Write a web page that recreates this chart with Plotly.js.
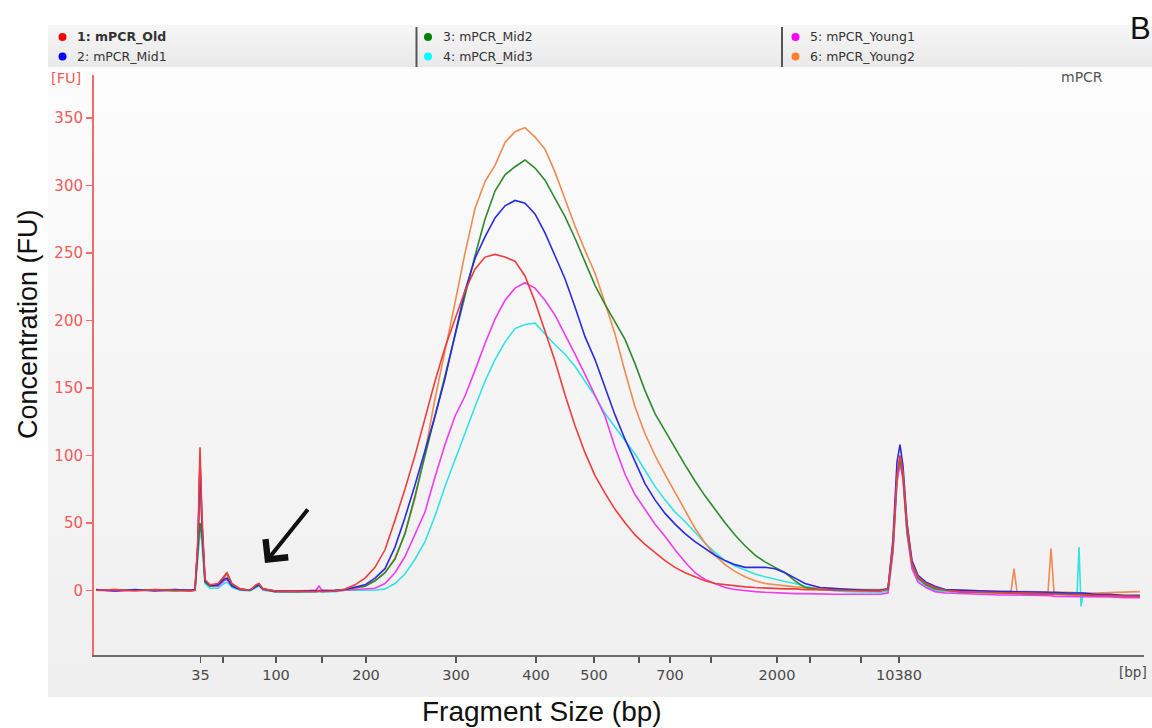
<!DOCTYPE html>
<html>
<head>
<meta charset="utf-8">
<script src="https://cdn.plot.ly/plotly-3.0.1.min.js"></script>
<style>
html,body{margin:0;padding:0;background:#ffffff;}
#wrap{position:relative;width:1152px;height:728px;overflow:hidden;background:#ffffff;}
#legendStrip{position:absolute;left:48px;top:25px;width:1104px;height:42px;background:linear-gradient(#f6f6f6,#e9e9e9);}
#panel{position:absolute;left:48px;top:67px;width:1104px;height:630px;background:linear-gradient(#fdfdfd 0%,#f7f7f7 35%,#efefef 100%);}
#chart{position:absolute;left:0;top:0;width:1152px;height:728px;}
</style>
</head>
<body>
<div id="wrap">
  <div id="legendStrip"></div>
  <div id="panel"></div>
  <div id="chart"></div>
</div>
<script>
// ---- Data (x = migration time, arbitrary units; ladder maps time to bp labels) ----
const seriesNames = ['1: mPCR_Old','2: mPCR_Mid1','3: mPCR_Mid2','4: mPCR_Mid3','5: mPCR_Young1','6: mPCR_Young2'];
const lineColors = ['#f03c3c','#2a2ae0','#2e8a2e','#33e3e3','#ee3cee','#f08a50'];
const dotColors  = ['#ff0000','#0000ff','#008000','#00ffff','#ff00ff','#ff7f2a'];

const ladderTime   = [106.5, 129, 182, 228, 272, 362, 442, 500, 545, 576, 617, 683, 716, 767, 805];
const ladderLabels = ['35','','100','','200','300','400','500','','700','','2000','','','10380'];
const fuTicks = [0, 50, 100, 150, 200, 250, 300, 350];

const migrationTime = [
  2,21,41,61,81,96,101,
  104,106,108,111,116,
  124,130,133,138,146,
  156,162,165,169,181,
  201,222,225,228,241,
  251,261,271,281,291,301,311,321,331,341,351,361,371,381,391,401,411,421,431,441,
  451,461,471,481,491,501,511,521,531,541,551,561,571,581,591,601,611,621,631,641,
  651,661,671,681,691,701,711,
  726,741,756,771,786,
  794,799,803,806,809,813,818,824,832,841,851,
  866,886,906,917,920,923,936,954,957,960,974,983,985,987,989,1001,1016,1031,1046
];

const fuOld = [
  0,0.5,-0.5,0.5,0,-0.5,0,
  40,106,55,8,4,
  5,10,13,5,1,
  0,4,5,1,-0.5,
  -1,-1,-0.5,-1,-0.5,
  1,4,9,17,30,52,75,100,128,155,180,201,222,238,247,249,247,244,233,214,
  192,170,145,122,102,85,72,60,50,41,34,28,22,17,13,10,7,5,4,3,
  2.5,2,1.5,1.5,1,1,0.5,
  0.5,0,0,-0.5,-0.5,
  1,35,85,100,88,48,20,10,5,2,0,
  -1,-1.5,-2,-2,-2,-2,-2.5,-3,-3,-3,-3.5,-3.5,-3.5,-3.5,-3.5,-4,-4,-4.5,-4.5
];
const fuMid1 = [
  0.5,-0.5,0.5,-0.5,0.5,0,0.5,
  35,95,48,7,3.5,
  4,8,9,3,0.5,
  0,3,4,1,-0.5,
  -0.5,-0.5,0,-0.5,0,
  0.5,2,4,9,16,32,54,78,103,129,157,189,222,246,262,276,285,289,287,279,
  265,248,231,210,188,171,150,130,112,95,79,67,57,49,42,36,31,26,22,19,
  17,17,17,16,13,9,5,
  2,1,0.5,0,0,
  1,38,95,108,92,50,22,11,6,3,0.5,
  0,-0.5,-1,-1,-1,-1,-1,-1.5,-1.5,-1.5,-2,-2,-2,-2,-2,-3,-3,-4,-4
];
const fuMid2 = [
  0,0,0.5,0,-0.5,0,0,
  30,50,40,6,3,
  4,10,13,4,1,
  0,3,4,1,-1,
  -1,-1,-1,-1,-0.5,
  0.5,1.5,3,7,13,23,42,70,100,128,158,189,218,248,275,296,308,314,319,313,
  304,291,277,261,243,226,212,199,186,168,148,131,118,105,93,81,70,60,50,41,
  33,26,21,17,13,7,2,
  0.5,0,0,0,-0.5,
  0.5,32,85,97,85,45,19,9,4,1,0,
  -1,-1.5,-2,-2,-2,-2,-2.5,-2.5,-2.5,-2.5,-3,-3,-3,-3,-3,-3.5,-4,-4,-4
];
const fuMid3 = [
  0,0,-0.5,0,0,0,0,
  25,45,35,5,1.5,
  1.5,5,6,2,0,
  -0.5,2,3,0,-1,
  -1.5,-1.5,-1.5,-1.5,-1,
  0,0,0,0,1,5,12,23,36,55,77,97,117,136,155,171,184,194,197,198,
  190,182,175,166,155,144,131,121,111,101,89,77,67,58,51,43,35,28,22,18,
  15,12,10,8,6.5,5,3,
  1,-0.5,-1,-1.5,-1.5,
  -1,30,82,95,84,44,18,8,3,0,-1,
  -1.5,-2,-2,-2.5,-2.5,-2.5,-3,-3,-3,-3,-3,-3.5,32,-12,-3.5,-4,-4,-4,-4
];
const fuYoung1 = [
  0,-0.5,0,0,0.5,-0.5,0,
  35,95,50,7,3,
  3,7,8,3,0.5,
  0,3,4,0.5,-1,
  -1,0,3,0,-0.5,
  0,0,0.5,1.5,5,13,25,41,58,84,108,129,144,163,183,201,215,224,228,224,
  215,204,190,175,160,145,129,106,86,71,60,49,40,30,21,13,8,5,2,0.5,
  -0.5,-1,-1.5,-2,-2,-2.5,-2.5,
  -3,-3,-3,-3,-3,
  -2,28,80,94,82,42,16,6,2,-1,-2,
  -2.5,-3,-3.5,-3.5,-3.5,-3.5,-4,-4,-4,-4.5,-4.5,-4.5,-4.5,-4.5,-5,-5,-5,-5.5,-5.5
];
const fuYoung2 = [
  0,0.5,0,0.5,0,0,0.5,
  35,92,45,7,3.5,
  4,9,12,4,1,
  0,4,5,1,-0.5,
  -0.5,0,0,0,0,
  0.5,1.5,3,7,13,24,42,68,102,142,177,213,250,283,303,315,332,340,343,336,
  327,310,290,270,252,235,213,190,162,136,116,100,86,73,59,46,35,26,19,14,
  10,7,5,4,3,2.5,2,
  1.5,1,1,0.5,0.5,
  1,33,86,98,86,46,20,10,5,2,0.5,
  0,-0.5,-0.5,-1,16,-1,-1,-1.5,31,-1.5,-1.5,-2,-2,-2,-2,-2,-1.5,-1.5,-1
];
const seriesValues = [fuOld, fuMid1, fuMid2, fuMid3, fuYoung1, fuYoung2];

// ---- Build traces (red drawn last, on top) ----
const drawOrder = [3, 4, 5, 2, 1, 0];
const traces = drawOrder.map(i => ({
  type: 'scatter', mode: 'lines',
  x: migrationTime, y: seriesValues[i],
  name: seriesNames[i],
  line: {color: lineColors[i], width: 1.6},
  hoverinfo: 'skip'
}));

// ---- Layout helpers: page pixel -> paper coords ----
const M = {l: 94, r: 8, t: 75, b: 73};
const W = 1152, H = 728;
const PW = W - M.l - M.r, PH = H - M.t - M.b;
const PX = px => (px - M.l) / PW;
const PY = py => (H - M.b - py) / PH;

const annotations = [];
const shapes = [];
function label(px, py, text, font, xanchor, extra) {
  annotations.push(Object.assign({xref: 'paper', yref: 'paper', x: PX(px), y: PY(py),
    xanchor: xanchor || 'center', yanchor: 'middle', showarrow: false, text: text, font: font}, extra || {}));
}

// legend
const colDotX = [62.5, 428, 795.5];
const colTextX = [75, 441, 808];
const rowY = [37, 56.5];
seriesNames.forEach((name, i) => {
  const c = Math.floor(i / 2), r = i % 2;
  shapes.push({type: 'circle', xref: 'paper', yref: 'paper', xsizemode: 'pixel', ysizemode: 'pixel',
    xanchor: PX(colDotX[c]), yanchor: PY(rowY[r]), x0: -4, x1: 4, y0: -4, y1: 4,
    fillcolor: dotColors[i], line: {width: 0}, layer: 'above'});
  label(colTextX[c], rowY[r], i === 0 ? '<b>' + name + '</b>' : name,
    {family: 'DejaVu Sans', size: 12.5, color: '#333'}, 'left');
});
[416.5, 782].forEach(px => shapes.push({type: 'line', xref: 'paper', yref: 'paper',
  x0: PX(px), x1: PX(px), y0: PY(27), y1: PY(67), line: {color: '#555', width: 2}}));

// labels
label(66, 78, '[FU]', {family: 'DejaVu Sans', size: 14.5, color: '#f05a5a'});
label(1117, 672, '[bp]', {family: 'DejaVu Sans', size: 13.5, color: '#4a4a4a'}, 'left');
label(1082, 77, 'mPCR', {family: 'DejaVu Sans', size: 14, color: '#555'});
label(1128, 29, 'B', {family: 'Liberation Sans', size: 31, color: '#111'}, 'left');
label(28, 324, 'Concentration (FU)', {family: 'Liberation Sans', size: 27, color: '#111'}, 'center', {textangle: -90});
label(541.5, 711, 'Fragment Size (bp)', {family: 'Liberation Sans', size: 28, color: '#111'});
// arrow
annotations.push({xref: 'paper', yref: 'paper', x: PX(265), y: PY(563), ax: 44, ay: -55, text: '',
  showarrow: true, arrowhead: 4, arrowsize: 1.4, arrowwidth: 4, arrowcolor: '#111', standoff: 0});

const layout = {
  width: W, height: H, margin: M,
  paper_bgcolor: 'rgba(0,0,0,0)', plot_bgcolor: 'rgba(0,0,0,0)',
  showlegend: false,
  xaxis: {range: [0, 1050], tickmode: 'array', tickvals: ladderTime, ticktext: ladderLabels,
    ticks: 'outside', ticklen: 6, tickwidth: 1.5, tickcolor: '#555',
    showline: true, linecolor: '#6a6a6a', linewidth: 2, showgrid: false, zeroline: false,
    tickfont: {family: 'DejaVu Sans', size: 14.5, color: '#4a4a4a'}},
  yaxis: {range: [-48, 382], tickmode: 'array', tickvals: fuTicks,
    ticks: 'outside', ticklen: 6, tickwidth: 1.5, tickcolor: '#f06a6a',
    showline: true, linecolor: '#f26a6a', linewidth: 2, showgrid: false, zeroline: false,
    tickfont: {family: 'DejaVu Sans', size: 15, color: '#f05a5a'}},
  annotations: annotations,
  shapes: shapes
};

Plotly.newPlot('chart', traces, layout, {staticPlot: true, displayModeBar: false});
</script>
</body>
</html>
